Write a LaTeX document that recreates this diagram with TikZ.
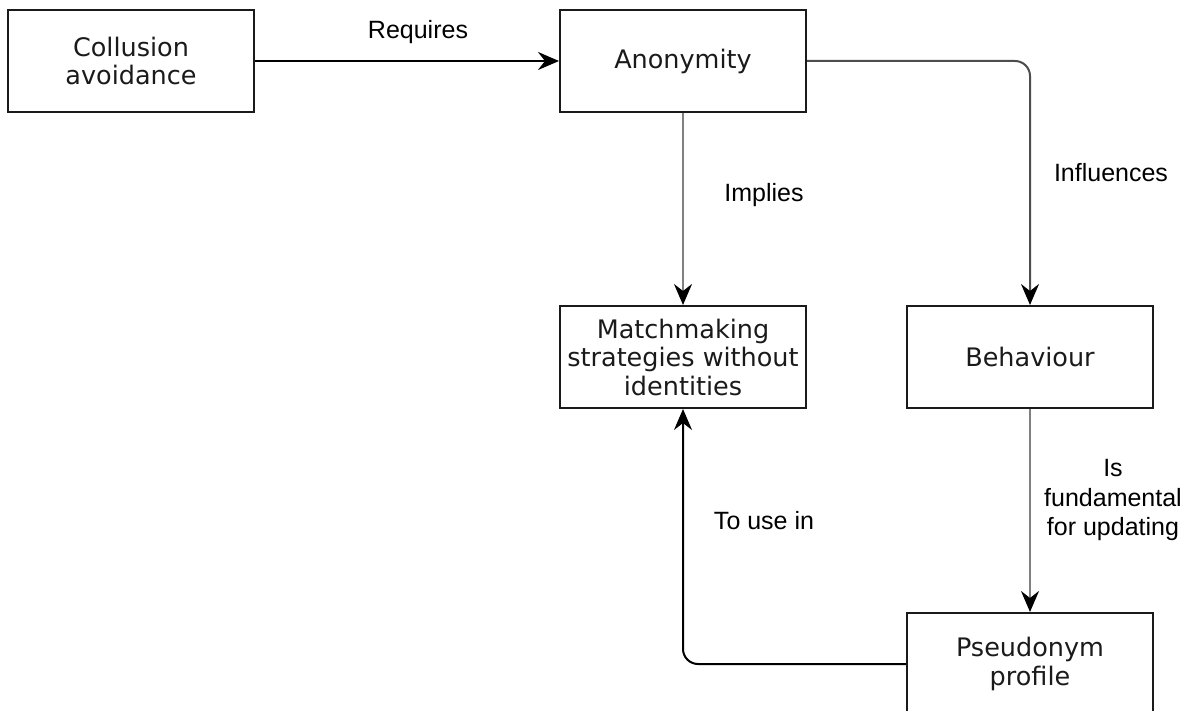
\documentclass[tikz,border=0pt]{standalone}
\usepackage{fontspec}
\setmainfont{Liberation Sans}
\newfontfamily\boxfont{DejaVu Sans}
\usetikzlibrary{arrows.meta}
\definecolor{boxline}{HTML}{1A1A1A}
\definecolor{boxtext}{HTML}{1A1A1A}
\definecolor{lightlink}{HTML}{808080}
\definecolor{midlink}{HTML}{4D4D4D}
\begin{document}
\begin{tikzpicture}[x=1pt,y=-1pt,
  concept/.style={draw=boxline, line width=2pt, minimum width=246pt,
    minimum height=102pt, inner sep=0pt, align=center,
    font=\boxfont\fontsize{25.5}{28.5}\selectfont, text=boxtext},
  link/.style={line width=2pt,
    -{Stealth[black, length=21pt, width=18pt, inset=7pt]}},
  tag/.style={font=\fontsize{25}{29.5}\selectfont, align=center, inner sep=0pt}]
\useasboundingbox (0,0) rectangle (1189,711);
\clip (0,0) rectangle (1189,711);

% concepts
\node[concept] (coll)  at (131,61)  {Collusion\\avoidance};
\node[concept] (anon)  at (683,61)  {Anonymity};
\node[concept] (match) at (683,357) {Matchmaking\\strategies without\\identities};
\node[concept] (behav) at (1030,357) {Behaviour};
\node[concept] (pseud) at (1030,664) {Pseudonym\\profile};

% relations
\draw[link] (coll) -- (anon);
\draw[link, draw=lightlink] (anon) -- (match);
\draw[link, draw=midlink, rounded corners=15pt] (anon.east) -| (behav.north);
\draw[link, draw=lightlink] (behav) -- (pseud);
\draw[link, rounded corners=15pt] (pseud.west) -| (match.south);

% relation labels
\node[tag] (lreq) at (418,32)  {Requires};
\node[tag] (limp) at (764,195) {Implies};
\node[tag] (linf) at (1111,173) {Influences};
\node[tag] (lfun) at (1113,500) {Is\\fundamental\\for updating};
\node[tag] (luse) at (764,521) {To use in};
\end{tikzpicture}
\end{document}
